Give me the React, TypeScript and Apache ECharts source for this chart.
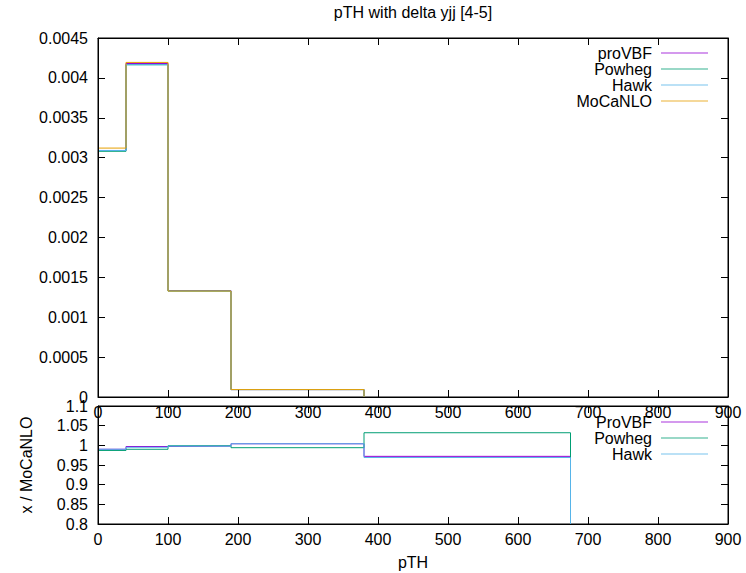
import React, { useEffect, useRef } from "react";
import * as echarts from "echarts";

// ---- data ----
const binEdges = [0, 40, 100, 190, 380, 675];
const xTicks = [0, 900, 100]; // min, max, interval

// top panel: distributions (nothing visible beyond 380)
const seriesNames = ["proVBF", "Powheg", "Hawk", "MoCaNLO"];
const proVBF = [0.00309, 0.00418, 0.001334, 0.000093];
const powheg = [0.00308, 0.004165, 0.001328, 0.000093];
const hawk = [0.00309, 0.004165, 0.001328, 0.000093];
const moCaNLO = [0.00312, 0.004194, 0.001328, 0.000093];

// bottom panel: ratios to MoCaNLO
const ratioNames = ["ProVBF", "Powheg", "Hawk"];
const ratioProVBF = [0.99, 0.997, 0.998, 1.004, 0.972];
const ratioPowheg = [0.987, 0.99, 0.999, 0.994, 1.032];
const ratioHawk = [0.99, 0.995, 0.998, 1.004, 0.969];

const topYTicks = [0, 0.0045, 0.0005];
const bottomYTicks = [0.8, 1.1, 0.05];

const title = "pTH with delta yjj [4-5]";
const xName = "pTH";
const ratioYName = "x / MoCaNLO";

const colors = ["#9400d3", "#009e73", "#56b4e9", "#e69f00"];
const FONT = "Liberation Sans, Arial, sans-serif";
const FS = 16;

function steps(edges: number[], vals: number[]) {
  const pts: number[][] = [];
  for (let i = 0; i < vals.length; i++) {
    pts.push([edges[i], vals[i]]);
    pts.push([edges[i + 1], vals[i]]);
  }
  pts.push([edges[vals.length], 0]);
  return pts;
}

const G = { left: 98, width: 630 };
const topGrid = { ...G, top: 38, height: 359 };
const botGrid = { ...G, top: 406, height: 118 };

function xAxisDef(gridIndex: number, position: string, labels: boolean, extra: any = {}) {
  return {
    type: "value",
    gridIndex,
    position,
    z: 10,
    min: xTicks[0],
    max: xTicks[1],
    interval: xTicks[2],
    axisLine: { show: true, onZero: false, lineStyle: { color: "#000", width: 1 } },
    axisTick: { show: true, inside: true, length: 7, lineStyle: { color: "#000" } },
    axisLabel: {
      show: labels,
      color: "#000",
      fontFamily: FONT,
      fontSize: FS,
      margin: 7,
      showMinLabel: true,
      showMaxLabel: true,
    },
    splitLine: { show: false },
    ...extra,
  };
}

function yAxisDef(gridIndex: number, position: string, labels: boolean, t: number[], digits: number, extra: any = {}) {
  return {
    type: "value",
    gridIndex,
    position,
    z: 10,
    min: t[0],
    max: t[1],
    interval: t[2],
    axisLine: { show: true, onZero: false, lineStyle: { color: "#000", width: 1 } },
    axisTick: { show: true, inside: true, length: 7, lineStyle: { color: "#000" } },
    axisLabel: {
      show: labels,
      color: "#000",
      fontFamily: FONT,
      fontSize: FS,
      margin: 10,
      showMinLabel: true,
      showMaxLabel: true,
      formatter: (v: number) => String(parseFloat(v.toFixed(digits))),
    },
    splitLine: { show: false },
    ...extra,
  };
}

function lineSeries(name: string, data: number[][], color: string, axisIdx: number, z: number) {
  return {
    type: "line",
    name,
    data,
    xAxisIndex: axisIdx,
    yAxisIndex: axisIdx,
    z,
    symbol: "none",
    showSymbol: false,
    clip: true,
    silent: true,
    lineStyle: { color, width: 1 },
    itemStyle: { color },
  };
}

function legendGraphics(names: string[], y0: number) {
  const els: any[] = [];
  names.forEach((n, i) => {
    const y = y0 + i * 16;
    els.push({
      type: "text",
      x: 652,
      y,
      style: { text: n, fill: "#000", font: `${FS}px ${FONT}`, textAlign: "right", textVerticalAlign: "middle" },
      z: 100,
    });
    els.push({
      type: "line",
      shape: { x1: 661, y1: y, x2: 708, y2: y },
      style: { stroke: colors[i], lineWidth: 1, opacity: 0.8 },
      z: 100,
    });
  });
  return els;
}

export default function App() {
  const ref = useRef<HTMLDivElement>(null);
  useEffect(() => {
    document.body.style.margin = "0";
    const chart = echarts.init(ref.current!, undefined, { renderer: "svg" });
    const topVals = [proVBF, powheg, hawk, moCaNLO];
    const ratioVals = [ratioProVBF, ratioPowheg, ratioHawk];
    chart.setOption({
      animation: false,
      backgroundColor: "#fff",
      grid: [
        { ...topGrid, show: true, borderColor: "#000", borderWidth: 1, backgroundColor: "transparent" },
        { ...botGrid, show: true, borderColor: "#000", borderWidth: 1, backgroundColor: "transparent" },
      ],
      xAxis: [
        xAxisDef(0, "bottom", true),
        xAxisDef(0, "top", false),
        xAxisDef(1, "bottom", true, {
          name: xName,
          nameLocation: "middle",
          nameGap: 30,
          nameTextStyle: { color: "#000", fontFamily: FONT, fontSize: FS },
        }),
        xAxisDef(1, "top", false),
      ],
      yAxis: [
        yAxisDef(0, "left", true, topYTicks, 4),
        yAxisDef(0, "right", false, topYTicks, 4),
        yAxisDef(1, "left", true, bottomYTicks, 2, {
          name: ratioYName,
          nameLocation: "middle",
          nameGap: 64,
          nameRotate: 90,
          nameTextStyle: { color: "#000", fontFamily: FONT, fontSize: FS },
        }),
        yAxisDef(1, "right", false, bottomYTicks, 2),
      ],
      series: [
        ...topVals.map((v, i) => lineSeries(seriesNames[i], steps(binEdges, v), colors[i], 0, 2 + i)),
        ...ratioVals.map((v, i) => lineSeries(ratioNames[i] + " ratio", steps(binEdges, v), colors[i], 2, 2 + i)),
      ],
      graphic: [
        {
          type: "text",
          x: 413,
          y: 12,
          style: { text: title, fill: "#000", font: `${FS}px ${FONT}`, textAlign: "center", textVerticalAlign: "middle" },
        },
        ...legendGraphics(seriesNames, 53),
        ...legendGraphics(ratioNames, 422),
      ],
    });
    return () => chart.dispose();
  }, []);
  return <div ref={ref} style={{ width: 746, height: 573 }} />;
}
